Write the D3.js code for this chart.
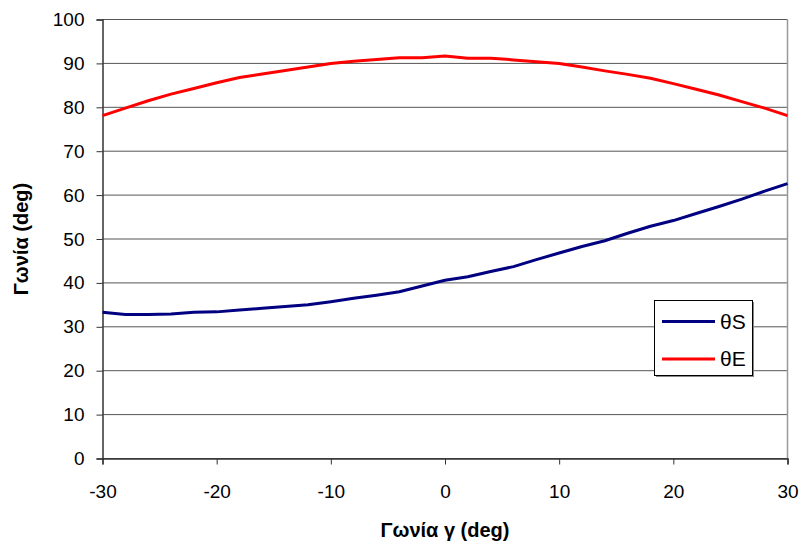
<!DOCTYPE html>
<html>
<head>
<meta charset="utf-8">
<script src="https://cdn.jsdelivr.net/npm/d3@7"></script>
<style>
  html, body { margin: 0; padding: 0; background: #fff; }
  svg { display: block; }
  text { font-family: "Liberation Sans", Arial, sans-serif; fill: #000; }
</style>
</head>
<body>
<svg id="chart" width="801" height="544"></svg>
<script>
// ---- data ----
const gamma = [-30,-28,-26,-24,-22,-20,-18,-16,-14,-12,-10,-8,-6,-4,-2,0,2,4,6,8,10,12,14,16,18,20,22,24,26,28,30];
const thetaS = [33.3,32.8,32.8,32.9,33.3,33.4,33.8,34.2,34.6,35.0,35.7,36.5,37.2,38.0,39.3,40.6,41.4,42.6,43.7,45.3,46.8,48.3,49.6,51.3,52.9,54.2,55.8,57.4,59.1,60.9,62.6];
const thetaE = [78.1,79.8,81.5,83.0,84.3,85.6,86.8,87.6,88.4,89.2,90.0,90.5,90.9,91.3,91.3,91.7,91.2,91.2,90.8,90.4,90.0,89.2,88.3,87.5,86.6,85.4,84.1,82.8,81.3,79.8,78.1];
const xTicks = [-30,-20,-10,0,10,20,30];
const yTicks = [0,10,20,30,40,50,60,70,80,90,100];
const seriesNames = ["θS", "θE"];
const xTitle = "Γωνία γ (deg)";
const yTitle = "Γωνία (deg)";

// ---- layout ----
const L = 102.5, R = 787.5, T = 19.5, B = 458.5;
const svg = d3.select("#chart");
const x = d3.scaleLinear().domain([-30, 30]).range([L, R]);
const y = d3.scaleLinear().domain([0, 100]).range([B, T]);
const fmt = d => String(d);

// gridlines
svg.append("g").selectAll("line").data(yTicks).join("line")
  .attr("x1", L).attr("x2", R)
  .attr("y1", d => y(d)).attr("y2", d => y(d))
  .attr("stroke", "#555").attr("stroke-width", 1);

// right border
svg.append("line").attr("x1", R).attr("x2", R).attr("y1", T).attr("y2", B)
  .attr("stroke", "#999").attr("stroke-width", 1.5);

// y axis
const yAxis = svg.append("g").attr("transform", `translate(${L},0)`)
  .call(d3.axisLeft(y).tickValues(yTicks).tickSize(6).tickPadding(12).tickFormat(fmt));
yAxis.select(".domain").attr("stroke", "#333").attr("stroke-width", 1.5);
yAxis.selectAll(".tick line").attr("stroke", "#333");
yAxis.selectAll(".tick text").style("font-size", "19px").style("font-family", "Liberation Sans, Arial, sans-serif");

// x axis
const xAxis = svg.append("g").attr("transform", `translate(0,${B})`)
  .call(d3.axisBottom(x).tickValues(xTicks).tickSize(6).tickPadding(20).tickFormat(fmt));
xAxis.select(".domain").attr("stroke", "#333").attr("stroke-width", 1.5);
xAxis.selectAll(".tick line").attr("stroke", "#333");
xAxis.selectAll(".tick text").style("font-size", "19px").style("font-family", "Liberation Sans, Arial, sans-serif");

// lines
const line = vals => d3.line().x((d, i) => x(gamma[i])).y(d => y(d))(vals);
svg.append("path").attr("d", line(thetaS)).attr("fill", "none")
  .attr("stroke", "#000080").attr("stroke-width", 3).attr("stroke-linejoin", "round");
svg.append("path").attr("d", line(thetaE)).attr("fill", "none")
  .attr("stroke", "#ff0000").attr("stroke-width", 3).attr("stroke-linejoin", "round");

// axis titles
svg.append("text").attr("x", (L + R) / 2).attr("y", 537)
  .attr("text-anchor", "middle").style("font-size", "20px").style("font-weight", "bold")
  .text(xTitle);
svg.append("text").attr("transform", `translate(28,${(T + B) / 2}) rotate(-90)`)
  .attr("text-anchor", "middle").style("font-size", "20px").style("font-weight", "bold")
  .text(yTitle);

// legend
const lg = svg.append("g");
lg.append("rect").attr("x", 656).attr("y", 302).attr("width", 98).attr("height", 75).attr("fill", "#888");
lg.append("rect").attr("x", 654.5).attr("y", 300.5).attr("width", 98).attr("height", 75)
  .attr("fill", "#fff").attr("stroke", "#000").attr("stroke-width", 1);
const colors = ["#000080", "#ff0000"];
const rowsY = [321.5, 359];
seriesNames.forEach((n, i) => {
  lg.append("line").attr("x1", 662).attr("x2", 715).attr("y1", rowsY[i]).attr("y2", rowsY[i])
    .attr("stroke", colors[i]).attr("stroke-width", 3);
  lg.append("text").attr("x", 720).attr("y", rowsY[i] + 7).style("font-size", "21px").text(n);
});
</script>
</body>
</html>
